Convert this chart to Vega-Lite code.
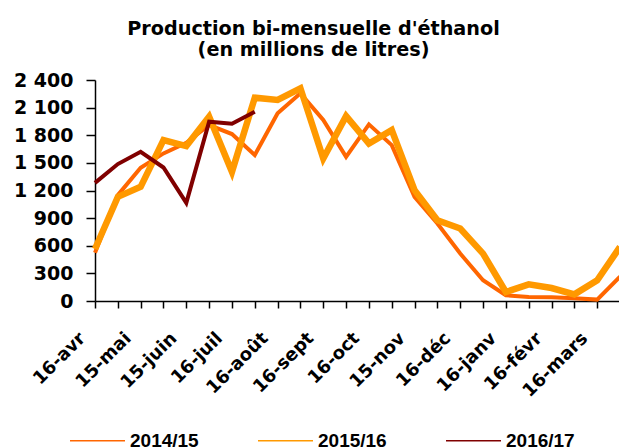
{
  "$schema": "https://vega.github.io/schema/vega-lite/v6.json",
  "autosize": "none",
  "padding": {"left": 95, "top": 80, "right": 0, "bottom": 147},
  "width": 525,
  "height": 221,
  "background": "white",
  "title": {
    "text": ["Production bi-mensuelle d'éthanol", "(en millions de litres)"],
    "font": "DejaVu Sans",
    "fontSize": 19.2,
    "fontWeight": "bold",
    "color": "black",
    "lineHeight": 21,
    "anchor": "middle",
    "dx": -44,
    "offset": 11
  },
  "data": {
    "values": [
      {"i": 0, "periode": "16-avr", "serie": "2014/15", "valeur": 525},
      {"i": 1, "periode": "01-mai", "serie": "2014/15", "valeur": 1150},
      {"i": 2, "periode": "15-mai", "serie": "2014/15", "valeur": 1447},
      {"i": 3, "periode": "01-juin", "serie": "2014/15", "valeur": 1603},
      {"i": 4, "periode": "15-juin", "serie": "2014/15", "valeur": 1718},
      {"i": 5, "periode": "01-juil", "serie": "2014/15", "valeur": 1911},
      {"i": 6, "periode": "16-juil", "serie": "2014/15", "valeur": 1813},
      {"i": 7, "periode": "01-août", "serie": "2014/15", "valeur": 1585},
      {"i": 8, "periode": "16-août", "serie": "2014/15", "valeur": 2038},
      {"i": 9, "periode": "01-sept", "serie": "2014/15", "valeur": 2255},
      {"i": 10, "periode": "16-sept", "serie": "2014/15", "valeur": 1965},
      {"i": 11, "periode": "01-oct", "serie": "2014/15", "valeur": 1566},
      {"i": 12, "periode": "16-oct", "serie": "2014/15", "valeur": 1918},
      {"i": 13, "periode": "01-nov", "serie": "2014/15", "valeur": 1693},
      {"i": 14, "periode": "15-nov", "serie": "2014/15", "valeur": 1131},
      {"i": 15, "periode": "01-déc", "serie": "2014/15", "valeur": 841},
      {"i": 16, "periode": "16-déc", "serie": "2014/15", "valeur": 515},
      {"i": 17, "periode": "01-janv", "serie": "2014/15", "valeur": 225},
      {"i": 18, "periode": "16-janv", "serie": "2014/15", "valeur": 62},
      {"i": 19, "periode": "01-févr", "serie": "2014/15", "valeur": 43},
      {"i": 20, "periode": "16-févr", "serie": "2014/15", "valeur": 40},
      {"i": 21, "periode": "01-mars", "serie": "2014/15", "valeur": 30},
      {"i": 22, "periode": "16-mars", "serie": "2014/15", "valeur": 15},
      {"i": 23, "periode": "01-avr", "serie": "2014/15", "valeur": 265},
      {"i": 0, "periode": "16-avr", "serie": "2015/16", "valeur": 565},
      {"i": 1, "periode": "01-mai", "serie": "2015/16", "valeur": 1131},
      {"i": 2, "periode": "15-mai", "serie": "2015/16", "valeur": 1240},
      {"i": 3, "periode": "01-juin", "serie": "2015/16", "valeur": 1748},
      {"i": 4, "periode": "15-juin", "serie": "2015/16", "valeur": 1682},
      {"i": 5, "periode": "01-juil", "serie": "2015/16", "valeur": 2001},
      {"i": 6, "periode": "16-juil", "serie": "2015/16", "valeur": 1403},
      {"i": 7, "periode": "01-août", "serie": "2015/16", "valeur": 2208},
      {"i": 8, "periode": "16-août", "serie": "2015/16", "valeur": 2183},
      {"i": 9, "periode": "01-sept", "serie": "2015/16", "valeur": 2310},
      {"i": 10, "periode": "16-sept", "serie": "2015/16", "valeur": 1548},
      {"i": 11, "periode": "01-oct", "serie": "2015/16", "valeur": 2008},
      {"i": 12, "periode": "16-oct", "serie": "2015/16", "valeur": 1711},
      {"i": 13, "periode": "01-nov", "serie": "2015/16", "valeur": 1856},
      {"i": 14, "periode": "15-nov", "serie": "2015/16", "valeur": 1204},
      {"i": 15, "periode": "01-déc", "serie": "2015/16", "valeur": 877},
      {"i": 16, "periode": "16-déc", "serie": "2015/16", "valeur": 787},
      {"i": 17, "periode": "01-janv", "serie": "2015/16", "valeur": 515},
      {"i": 18, "periode": "16-janv", "serie": "2015/16", "valeur": 98},
      {"i": 19, "periode": "01-févr", "serie": "2015/16", "valeur": 181},
      {"i": 20, "periode": "16-févr", "serie": "2015/16", "valeur": 141},
      {"i": 21, "periode": "01-mars", "serie": "2015/16", "valeur": 72},
      {"i": 22, "periode": "16-mars", "serie": "2015/16", "valeur": 225},
      {"i": 23, "periode": "01-avr", "serie": "2015/16", "valeur": 587},
      {"i": 0, "periode": "16-avr", "serie": "2016/17", "valeur": 1283},
      {"i": 1, "periode": "01-mai", "serie": "2016/17", "valeur": 1487},
      {"i": 2, "periode": "15-mai", "serie": "2016/17", "valeur": 1620},
      {"i": 3, "periode": "01-juin", "serie": "2016/17", "valeur": 1450},
      {"i": 4, "periode": "15-juin", "serie": "2016/17", "valeur": 1066},
      {"i": 5, "periode": "01-juil", "serie": "2016/17", "valeur": 1947},
      {"i": 6, "periode": "16-juil", "serie": "2016/17", "valeur": 1925},
      {"i": 7, "periode": "01-août", "serie": "2016/17", "valeur": 2056}
    ]
  },
  "mark": {"type": "line", "strokeJoin": "miter", "strokeCap": "butt"},
  "encoding": {
    "x": {
      "field": "periode",
      "type": "ordinal",
      "sort": {"field": "i", "op": "min"},
      "scale": {"type": "point", "padding": 0},
      "axis": {
        "title": null,
        "domainColor": "black",
        "domainWidth": 1.5,
        "tickColor": "black",
        "tickWidth": 1.5,
        "tickSize": 7,
        "labelAngle": -45,
        "labelFont": "DejaVu Sans",
        "labelFontSize": 18,
        "labelFontWeight": "bold",
        "labelColor": "black",
        "labelPadding": 21,
        "labelOffset": -19,
        "labelOverlap": false,
        "labelExpr": "indexof(datum.label, '01-') === 0 ? '' : datum.label"
      }
    },
    "y": {
      "field": "valeur",
      "type": "quantitative",
      "scale": {"domain": [0, 2400], "nice": false, "zero": true},
      "axis": {
        "title": null,
        "grid": false,
        "values": [0, 300, 600, 900, 1200, 1500, 1800, 2100, 2400],
        "format": ",d",
        "labelExpr": "replace(datum.label, ',', ' ')",
        "domainColor": "black",
        "domainWidth": 1.5,
        "tickColor": "black",
        "tickWidth": 1.5,
        "tickSize": 9,
        "labelFont": "DejaVu Sans",
        "labelFontSize": 19,
        "labelFontWeight": "bold",
        "labelColor": "black",
        "labelPadding": 13
      }
    },
    "color": {
      "field": "serie",
      "type": "nominal",
      "scale": {"domain": ["2014/15", "2015/16", "2016/17"], "range": ["#FF6600", "#FF9900", "#800000"]},
      "legend": {
        "title": null,
        "orient": "none",
        "legendX": -26,
        "legendY": 332,
        "direction": "horizontal",
        "columns": 3,
        "symbolType": "stroke",
        "symbolSize": 3025,
        "labelFont": "Liberation Sans",
        "labelFontSize": 19,
        "labelFontWeight": "bold",
        "labelColor": "black",
        "labelOffset": 4,
        "columnPadding": 56
      }
    },
    "strokeWidth": {
      "condition": {"test": "datum.serie === '2015/16'", "value": 6.5},
      "value": 4
    }
  },
  "config": {"view": {"stroke": null}}
}
